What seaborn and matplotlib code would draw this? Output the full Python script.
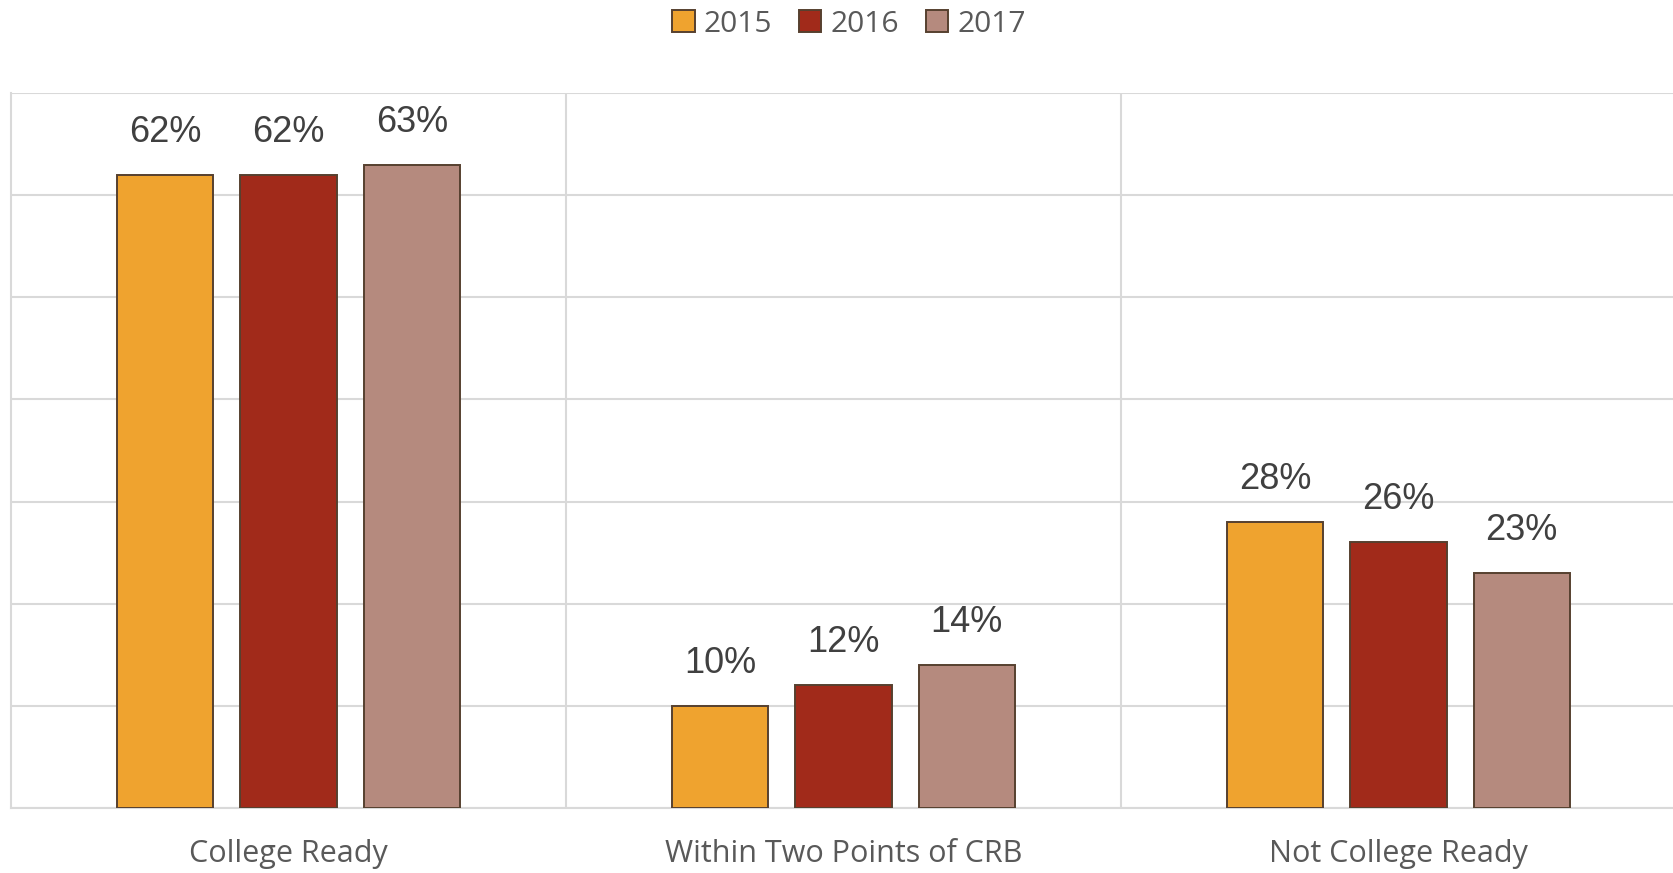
import matplotlib
matplotlib.use("Agg")
import matplotlib.pyplot as plt
import pandas as pd
import seaborn as sns

categories = ["College Ready", "Within Two Points of CRB", "Not College Ready"]
years = ["2015", "2016", "2017"]
values_2015 = [62, 10, 28]
values_2016 = [62, 12, 26]
values_2017 = [63, 14, 23]

palette = {"2015": "#EFA32F", "2016": "#A12A1A", "2017": "#B58A7E"}
edge = "#56402F"
grid_col = "#D9D9D9"

rows = []
for year, vals in zip(years, [values_2015, values_2016, values_2017]):
    for cat, v in zip(categories, vals):
        rows.append({"category": cat, "year": year, "value": v})
df = pd.DataFrame(rows)

sns.set_theme(style="white")
fig = plt.figure(figsize=(16.73, 8.73), dpi=100)
ax = fig.add_axes([11 / 1673, 65 / 873, 1665 / 1673, 715 / 873])

sns.barplot(
    data=df, x="category", y="value", hue="year", order=categories, hue_order=years,
    palette=palette, width=0.666, gap=0.22, edgecolor=edge, linewidth=1.4,
    saturation=1, ax=ax, zorder=3,
)

ax.set_ylim(0, 70)
ax.set_xlim(-0.5, 2.5)
ax.set_yticks(range(0, 71, 10))
ax.set_yticklabels([])
ax.yaxis.grid(True, color=grid_col, linewidth=1.5, zorder=0)
for xb in [0.5, 1.5]:
    ax.axvline(xb, color=grid_col, linewidth=1.5, zorder=0)
for side in ["top", "right"]:
    ax.spines[side].set_visible(False)
for side in ["left", "bottom"]:
    ax.spines[side].set_color(grid_col)
    ax.spines[side].set_linewidth(1.5)
ax.set_xlabel("")
ax.set_ylabel("")
ax.tick_params(axis="both", length=0)
ax.tick_params(axis="x", pad=22)
for lab in ax.get_xticklabels():
    lab.set_fontfamily("Open Sans")
    lab.set_fontsize(22)
    lab.set_color("#595959")

for cont in ax.containers:
    labels = [f"{int(b.get_height())}%" for b in cont]
    ax.bar_label(cont, labels=labels, padding=18, fontsize=26,
                 color="#404040", family="Liberation Sans")

handles, labels = ax.get_legend_handles_labels()
ax.get_legend().remove()
leg = fig.legend(handles, labels, loc="center", bbox_to_anchor=(849 / 1673, 1 - 24 / 873),
                 ncol=3, frameon=False, handlelength=0.75, handleheight=0.75,
                 handletextpad=0.3, columnspacing=0.9,
                 prop={"family": "Open Sans", "size": 21.5})
for t in leg.get_texts():
    t.set_color("#595959")

fig.savefig("out.png", dpi=100)
